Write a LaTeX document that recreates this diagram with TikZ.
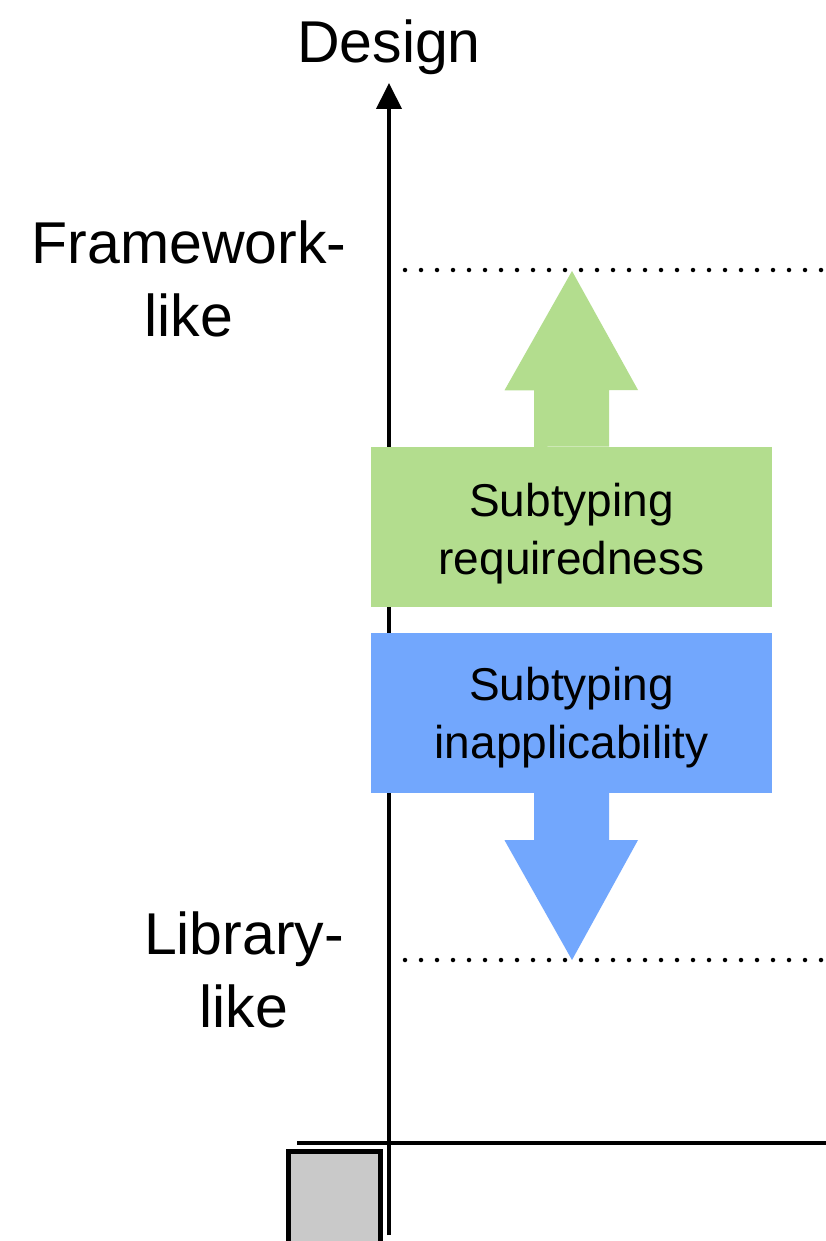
\documentclass[tikz,border=0pt]{standalone}
\usepackage{fontspec}
\setmainfont{Liberation Sans}
\usetikzlibrary{arrows.meta,calc}

\definecolor{reqgreen}{RGB}{179,221,142}
\definecolor{inablue}{RGB}{114,167,253}
\definecolor{cornergray}{RGB}{201,201,201}

\tikzset{
  axisline/.style={line width=4pt, black},
  levelline/.style={line width=4.5pt, line cap=round, dash pattern=on 0pt off 16pt},
  bigtext/.style={font=\fontsize{59}{73}\selectfont, align=center, inner sep=0pt},
  boxtext/.style={font=\fontsize{46}{58}\selectfont, align=center, inner sep=0pt},
  bandbox/.style={minimum width=401pt, minimum height=160pt, inner sep=0pt, draw=none},
}

\begin{document}
\begin{tikzpicture}[x=1pt, y=-1pt]
  \clip (0,0) rectangle (826,1241);
  \fill[white] (0,0) rectangle (826,1241);

  % axes
  \coordinate (origin) at (389,1143);
  \coordinate (ytop) at (389,83);
  \coordinate (ybottom) at (389,1235);
  \coordinate (xleft) at (297,1143);
  \coordinate (xright) at (826,1143);
  \draw[axisline] (xleft) -- (xright);
  \draw[axisline, -{Triangle[width=25pt,length=26pt]}] (ybottom) -- (ytop);

  % corner square
  \draw[line width=5pt, fill=cornergray] (288.5,1260) rectangle (380.5,1151.5);

  % level markers
  \coordinate (fwL) at (405,270);
  \coordinate (fwR) at (830,270);
  \coordinate (libL) at (405,960);
  \coordinate (libR) at (830,960);
  \draw[levelline] (fwL) -- (fwR);
  \draw[levelline] (libL) -- (libR);

  % axis labels
  \node[bigtext, anchor=base] (design) at (389,63) {Design};
  \node[bigtext] (framework) at (189,278.5) {Framework-\\like};
  \node[bigtext] (library) at (244,969.5) {Library-\\like};

  % green band with upward block arrow
  \node[bandbox, fill=reqgreen] (req) at (571.5,526.5) {};
  \coordinate (reqtip) at (572,271);
  \fill[reqgreen] ($(req.north)+(-37.5,0.5)$) -- ++(0,-56.5) -- ++(-29.5,0)
     -- (reqtip) -- ++(66,119) -- ++(-29,0) -- ++(0,56.5) -- cycle;
  \node[boxtext] (reqtext) at (571.5,533.5) {Subtyping\\requiredness};

  % blue band with downward block arrow
  \node[bandbox, fill=inablue] (ina) at (571.5,713) {};
  \coordinate (inatip) at (572,960);
  \fill[inablue] ($(ina.south)+(-37.5,-0.5)$) -- ++(0,47.5) -- ++(-29.5,0)
     -- (inatip) -- ++(66,-120) -- ++(-29,0) -- ++(0,-47.5) -- cycle;
  \node[boxtext] (inatext) at (571.5,718) {Subtyping\\inapplicability};
\end{tikzpicture}
\end{document}
